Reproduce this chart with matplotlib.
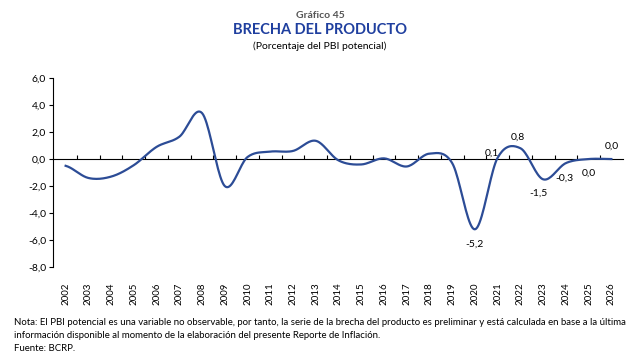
import numpy as np
import matplotlib
matplotlib.use('Agg')
import matplotlib.pyplot as plt
from matplotlib.ticker import FuncFormatter

years = [str(y) for y in range(2002, 2027)]
brecha = [-0.5, -1.4, -1.3, -0.45, 0.9, 1.65, 3.4, -2.0, 0.15, 0.55, 0.6, 1.35,
          -0.1, -0.4, 0.05, -0.55, 0.4, -0.3, -5.2, 0.1, 0.8, -1.5, -0.3, 0.0, 0.0]
etiquetas = {2021: '0,1', 2022: '0,8', 2023: '-1,5', 2024: '-0,3', 2025: '0,0', 2026: '0,0', 2020: '-5,2'}

plt.rcParams['font.family'] = ['Lato', 'DejaVu Sans']


def smooth(y, n=20):
    # curva suavizada tipo Excel (Catmull-Rom)
    y = np.asarray(y, float)
    x = np.arange(len(y), dtype=float)
    xs, ys = [], []
    for i in range(len(y) - 1):
        p0 = y[i - 1] if i > 0 else y[i]
        p3 = y[i + 2] if i + 2 < len(y) else y[i + 1]
        p1, p2 = y[i], y[i + 1]
        t = np.linspace(0, 1, n, endpoint=False)
        c1 = p1 + (p2 - p0) / 6
        c2 = p2 - (p3 - p1) / 6
        b = (1 - t) ** 3 * p1 + 3 * (1 - t) ** 2 * t * c1 + 3 * (1 - t) * t ** 2 * c2 + t ** 3 * p2
        xs.extend(x[i] + t)
        ys.extend(b)
    xs.append(x[-1])
    ys.append(y[-1])
    return np.array(xs), np.array(ys)


fig = plt.figure(figsize=(6.4, 3.61), dpi=100)
ax = fig.add_axes([0.083, 0.26, 0.89, 0.524])

xs, ys = smooth(brecha)
ax.plot(xs, ys, color='#2C4C96', lw=1.6)

ax.set_xlim(-0.55, 24.5)
ax.set_ylim(-8, 6)
ax.set_yticks(np.arange(-8, 7, 2))
ax.yaxis.set_major_formatter(FuncFormatter(lambda v, p: f'{v:.1f}'.replace('.', ',')))
ax.tick_params(axis='y', labelsize=7.5, length=3, width=0.8, pad=2)
ax.set_xticks(range(len(years)))
ax.set_xticklabels(years, rotation=90, fontsize=7)
ax.tick_params(axis='x', length=0, pad=11)
for s in ['top', 'right', 'bottom']:
    ax.spines[s].set_visible(False)
ax.spines['left'].set_linewidth(0.8)

# eje en cero
sec = ax.secondary_xaxis(8 / 14)
sec.set_xticks(np.arange(0.5, len(years) - 0.5, 1))
sec.set_xticklabels([])
sec.tick_params(length=3, width=0.8, direction='out')
sec.spines['bottom'].set_linewidth(0.9)

off = {2020: (0, -11, 'center'), 2021: (-4, 3, 'center'), 2022: (-2, 8, 'center'),
       2023: (-3, -10, 'center'), 2024: (-1, -11, 'center'), 2025: (0, -10, 'center'),
       2026: (0, 9, 'center')}
for yr, txt in etiquetas.items():
    i = yr - 2002
    dx, dy, ha = off[yr]
    ax.annotate(txt, (i, brecha[i]), xytext=(dx, dy), textcoords='offset points',
                ha=ha, va='center', fontsize=7.5)

fig.text(0.5, 0.958, 'Gráfico 45', ha='center', va='center', fontsize=7.5, color='#555555', fontweight='bold')
fig.text(0.5, 0.917, 'BRECHA DEL PRODUCTO', ha='center', va='center', fontsize=10.5, color='#1F3F9F', fontweight='bold')
fig.text(0.5, 0.873, '(Porcentaje del PBI potencial)', ha='center', va='center', fontsize=7.5)

nota = ('Nota: El PBI potencial es una variable no observable, por tanto, la serie de la brecha del producto es preliminar y está calculada en base a la última\n'
        'información disponible al momento de la elaboración del presente Reporte de Inflación.\n'
        'Fuente: BCRP.')
fig.text(0.022, 0.12, nota, ha='left', va='top', fontsize=6.9, linespacing=1.6)

fig.savefig('out.png', dpi=100)
